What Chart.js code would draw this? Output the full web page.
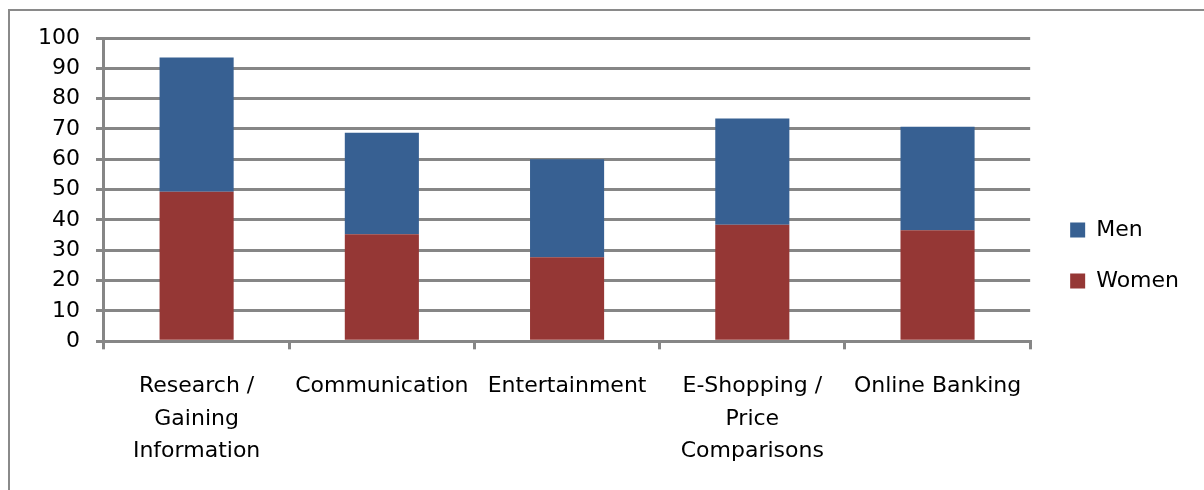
<!DOCTYPE html>
<html>
<head>
<meta charset="utf-8">
<script src="https://cdn.jsdelivr.net/npm/chart.js@4"></script>
<style>
  html, body { margin: 0; padding: 0; background: #fff; }
  #wrap { position: relative; width: 1204px; height: 490px; overflow: hidden; }
  #frame {
    position: absolute; left: 8px; top: 9px; width: 1300px; height: 600px;
    border-top: 2px solid #8a8a8a; border-left: 2px solid #8a8a8a;
  }
  canvas { position: absolute; left: 0; top: 0; }
</style>
</head>
<body>
<div id="wrap">
  <div id="frame"></div>
  <canvas id="chart" width="1204" height="490"></canvas>
</div>
<script>
const categories = [
  ["Research /", "Gaining", "Information"],
  "Communication",
  "Entertainment",
  ["E-Shopping /", "Price", "Comparisons"],
  "Online Banking"
];
const women = [49.3, 35.3, 27.7, 38.4, 36.6];
const men = [44.3, 33.5, 32.3, 35.1, 34.1];

const gridGray = "#868686";
const font = { family: "DejaVu Sans", size: 22 };

// nudge the legend a little away from the plot
const legendShift = {
  id: "legendShift",
  afterLayout(chart) {
    const lg = chart.legend;
    lg.left += 11;
    lg.right += 11;
    lg.top -= 8;
    lg.bottom -= 8;
  }
};

new Chart(document.getElementById("chart").getContext("2d"), {
  type: "bar",
  data: {
    labels: categories,
    datasets: [
      { label: "Women", data: women, backgroundColor: "#953735" },
      { label: "Men", data: men, backgroundColor: "#376092" }
    ]
  },
  options: {
    responsive: false,
    animation: false,
    devicePixelRatio: 1,
    categoryPercentage: 0.4,
    barPercentage: 1,
    layout: { padding: { left: 22, top: 38, bottom: 1, right: 26 } },
    plugins: {
      tooltip: { enabled: false },
      legend: {
        position: "right",
        reverse: true,
        labels: {
          color: "#000",
          font: font,
          boxWidth: 15,
          boxHeight: 15,
          padding: 29
        }
      }
    },
    scales: {
      x: {
        stacked: true,
        grid: {
          drawOnChartArea: false,
          offset: true,
          color: gridGray,
          lineWidth: 3,
          tickLength: 8
        },
        border: { display: true, color: gridGray, width: 3 },
        ticks: {
          color: "#000",
          font: { family: "DejaVu Sans", size: 22, lineHeight: 1.48 },
          padding: 21,
          maxRotation: 0,
          autoSkip: false
        }
      },
      y: {
        stacked: true,
        min: 0,
        max: 100,
        grid: { color: gridGray, lineWidth: 3, tickLength: 8 },
        border: { display: true, color: gridGray, width: 3 },
        ticks: { color: "#000", font: font, stepSize: 10, padding: 16 }
      }
    }
  },
  plugins: [legendShift]
});
</script>
</body>
</html>
